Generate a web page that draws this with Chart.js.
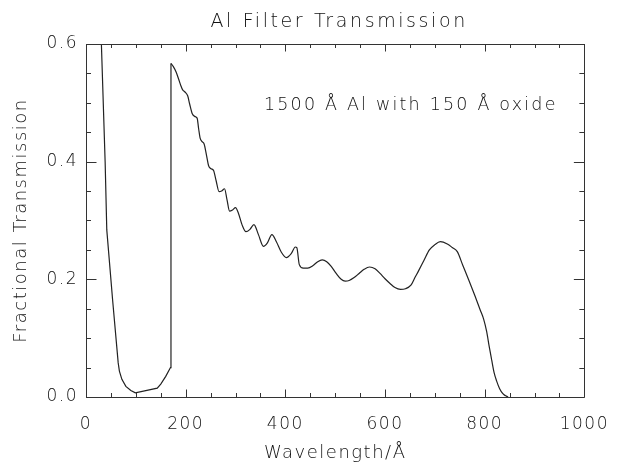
<!DOCTYPE html>
<html>
<head>
<meta charset="utf-8">
<script src="https://cdn.jsdelivr.net/npm/chart.js@4.4.1/dist/chart.umd.min.js"></script>
<style>
  html, body { margin: 0; padding: 0; background: #fff; }
  #wrap { width: 623px; height: 468px; }
</style>
</head>
<body>
<div id="wrap"><canvas id="chart" width="623" height="468"></canvas></div>
<script>
// Al filter transmission curve
const wavelength = [
  29, 38.4, 41.7, 53.4, 64.6, 67, 72, 80, 90, 99, 143, 150, 160, 169.5,
  170.5, 175, 181, 186, 190, 194, 199, 204, 208, 213, 218, 223, 226, 229,
  233, 237, 242, 246, 251, 256, 261, 267, 272, 278, 283, 288, 294, 300,
  306, 313, 321, 329, 337, 346, 356, 364, 373, 382, 392, 402, 412, 420,
  423, 428, 436, 445, 455, 465, 474, 483, 492, 502, 512, 520, 528, 538,
  548, 558, 569, 580, 590, 600, 610, 620, 631, 641, 652, 660, 667, 678,
  689, 700, 711, 725, 735, 745, 756, 768, 780, 791, 798, 804, 809, 814,
  819, 824, 830, 836, 842, 847
];
const transmission = [
  0.65, 0.40, 0.284, 0.165, 0.058, 0.044, 0.030, 0.018, 0.011, 0.007, 0.015, 0.022, 0.035, 0.050,
  0.567, 0.562, 0.552, 0.540, 0.530, 0.522, 0.518, 0.512, 0.498, 0.482, 0.477, 0.474, 0.456, 0.440,
  0.434, 0.430, 0.410, 0.393, 0.388, 0.385, 0.368, 0.349, 0.350, 0.354, 0.335, 0.316, 0.318, 0.322,
  0.312, 0.293, 0.281, 0.285, 0.293, 0.276, 0.256, 0.262, 0.276, 0.264, 0.246, 0.237, 0.244, 0.255,
  0.254, 0.225, 0.219, 0.219, 0.223, 0.230, 0.233, 0.230, 0.222, 0.210, 0.200, 0.197, 0.198, 0.203,
  0.210, 0.217, 0.221, 0.218, 0.210, 0.201, 0.193, 0.186, 0.183, 0.184, 0.190, 0.203, 0.214, 0.232,
  0.250, 0.259, 0.264, 0.260, 0.254, 0.247, 0.224, 0.199, 0.173, 0.148, 0.132, 0.111, 0.086, 0.063,
  0.041, 0.027, 0.014, 0.006, 0.002, 0.000
];
// index of the Al L-edge (top of the jump); short-wave side is drawn straight
const edgeIndex = 14;

const xTicks = [0, 200, 400, 600, 800, 1000];
const yTicks = [0.0, 0.2, 0.4, 0.6];

const titleText = "Al Filter Transmission";
const noteText = "1500 Å Al with 150 Å oxide";
const xTitle = "Wavelength/Å";
const yTitle = "Fractional Transmission";

const FONT = "'DejaVu Sans', sans-serif";
const INK = "#111";

const points = wavelength.map((w, i) => ({ x: w, y: transmission[i] }));

// IDL-style box with inward ticks on all four sides, plus title and note
const idlFrame = {
  id: "idlFrame",
  beforeDraw(chart) {
    chart.ctx.letterSpacing = "1.5px";
  },
  afterDatasetsDraw(chart) {
    const { ctx, chartArea: a, scales } = chart;
    const x = scales.x, y = scales.y;
    ctx.save();
    ctx.strokeStyle = "#333";
    ctx.lineWidth = 1;
    ctx.beginPath();
    ctx.rect(Math.round(a.left) + 0.5, Math.round(a.top) + 0.5,
             Math.round(a.right - a.left), Math.round(a.bottom - a.top));
    // x ticks: minor every 50, major every 200
    for (let v = 0; v <= 1000; v += 50) {
      const px = Math.round(x.getPixelForValue(v)) + 0.5;
      const len = v % 200 === 0 ? 7.5 : 4;
      ctx.moveTo(px, a.bottom); ctx.lineTo(px, a.bottom - len);
      ctx.moveTo(px, a.top); ctx.lineTo(px, a.top + len);
    }
    // y ticks: minor every 0.05, major every 0.2
    for (let i = 0; i <= 12; i++) {
      const py = Math.round(y.getPixelForValue(i * 0.05)) + 0.5;
      const len = i % 4 === 0 ? 10.5 : 5;
      ctx.moveTo(a.left, py); ctx.lineTo(a.left + len, py);
      ctx.moveTo(a.right, py); ctx.lineTo(a.right - len, py);
    }
    ctx.stroke();

    ctx.fillStyle = INK;
    ctx.textAlign = "center";
    ctx.textBaseline = "alphabetic";
    ctx.font = "200 19px " + FONT;
    ctx.letterSpacing = "2.6px";
    ctx.fillText(titleText, (a.left + a.right) / 2 + 4, 27);

    ctx.font = "200 17.5px " + FONT;
    ctx.letterSpacing = "2.2px";
    ctx.textAlign = "left";
    ctx.fillText(noteText, x.getPixelForValue(357), y.getPixelForValue(0.5) + 7);
    ctx.restore();
  }
};

const lineStyle = { borderColor: "#222", borderWidth: 1.2, pointRadius: 0, fill: false };

new Chart(document.getElementById("chart"), {
  type: "line",
  data: {
    datasets: [
      { ...lineStyle, data: points.slice(0, edgeIndex + 1), tension: 0 },
      { ...lineStyle, data: points.slice(edgeIndex), cubicInterpolationMode: "monotone" }
    ]
  },
  options: {
    responsive: false,
    animation: false,
    layout: { padding: { top: 44, right: 26, left: 0, bottom: 0 } },
    plugins: {
      legend: { display: false },
      tooltip: { enabled: false },
      title: { display: false }
    },
    scales: {
      x: {
        type: "linear",
        min: 0,
        max: 1000,
        afterBuildTicks: (s) => { s.ticks = xTicks.map(v => ({ value: v })); },
        afterFit: (s) => { s.height = 71; },
        grid: { display: false, drawTicks: false },
        border: { display: false },
        ticks: {
          padding: 17,
          color: INK,
          maxRotation: 0,
          font: { family: FONT, size: 17, weight: 200 },
          callback: (v) => String(v)
        },
        title: {
          display: true,
          text: xTitle,
          color: INK,
          font: { family: FONT, size: 18, weight: 200 },
          padding: { top: 0, bottom: 4 }
        }
      },
      y: {
        type: "linear",
        min: 0,
        max: 0.6,
        afterBuildTicks: (s) => { s.ticks = yTicks.map(v => ({ value: v })); },
        afterFit: (s) => { s.width = 86; },
        grid: { display: false, drawTicks: false },
        border: { display: false },
        ticks: {
          padding: 8,
          color: INK,
          font: { family: FONT, size: 17, weight: 200 },
          callback: (v) => Number(v).toFixed(1)
        },
        title: {
          display: true,
          text: yTitle,
          color: INK,
          font: { family: FONT, size: 18, weight: 200 },
          padding: { top: 11, bottom: 0 }
        }
      }
    }
  },
  plugins: [idlFrame]
});
</script>
</body>
</html>
